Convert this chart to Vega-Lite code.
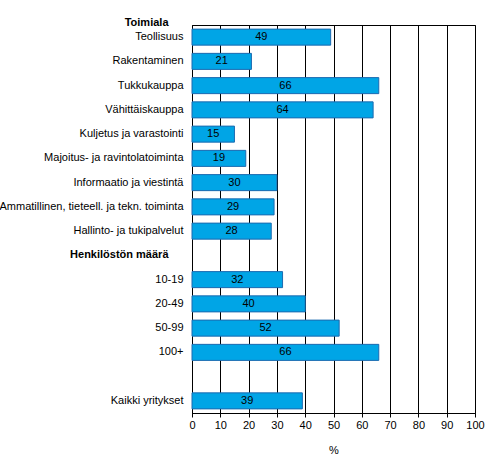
{
  "$schema": "https://vega.github.io/schema/vega-lite/v6.json",
  "autosize": {"type": "none"},
  "width": 283,
  "height": 388,
  "padding": {"left": 192, "top": 25, "right": 18, "bottom": 60},
  "background": "white",
  "data": {
    "values": [
      {"group": "Teollisuus", "share": 49},
      {"group": "Rakentaminen", "share": 21},
      {"group": "Tukkukauppa", "share": 66},
      {"group": "Vähittäiskauppa", "share": 64},
      {"group": "Kuljetus ja varastointi", "share": 15},
      {"group": "Majoitus- ja ravintolatoiminta", "share": 19},
      {"group": "Informaatio ja viestintä", "share": 30},
      {"group": "Ammatillinen, tieteell. ja tekn. toiminta", "share": 29},
      {"group": "Hallinto- ja tukipalvelut", "share": 28},
      {"group": "10-19", "share": 32},
      {"group": "20-49", "share": 40},
      {"group": "50-99", "share": 52},
      {"group": "100+", "share": 66},
      {"group": "Kaikki yritykset", "share": 39}
    ]
  },
  "config": {
    "font": "Liberation Sans",
    "view": {"stroke": "black", "strokeWidth": 1},
    "axis": {
      "labelFont": "Liberation Sans",
      "titleFont": "Liberation Sans",
      "labelFontSize": 11,
      "titleFontSize": 11,
      "labelColor": "black",
      "titleColor": "black",
      "domainColor": "black",
      "tickColor": "black"
    },
    "axisX": {
      "title": "%",
      "values": [0, 10, 20, 30, 40, 50, 60, 70, 80, 90, 100],
      "grid": true,
      "gridColor": "black",
      "gridOpacity": 1,
      "tickSize": 4,
      "labelPadding": 2,
      "titlePadding": 14,
      "titleFontWeight": "normal",
      "labelFlush": false,
      "labelOverlap": false
    }
  },
  "transform": [
    {"calculate": "datum.share / 2", "as": "mid"}
  ],
  "encoding": {
    "y": {
      "field": "group",
      "type": "nominal",
      "sort": null,
      "scale": {
        "domain": [
          "Teollisuus", "Rakentaminen", "Tukkukauppa", "Vähittäiskauppa",
          "Kuljetus ja varastointi", "Majoitus- ja ravintolatoiminta",
          "Informaatio ja viestintä", "Ammatillinen, tieteell. ja tekn. toiminta",
          "Hallinto- ja tukipalvelut", "Henkilöstön määrä",
          "10-19", "20-49", "50-99", "100+", " ", "Kaikki yritykset"
        ],
        "paddingInner": 0.34,
        "paddingOuter": 0.17
      },
      "axis": {
        "title": "Toimiala",
        "titleAngle": 0,
        "titleAlign": "right",
        "titleBaseline": "middle",
        "titleFontWeight": "bold",
        "titleX": -24,
        "titleY": -3,
        "ticks": false,
        "grid": false,
        "labelPadding": {"expr": "datum.value == 'Henkilöstön määrä' ? 24 : 9"},
        "labelFontWeight": {"expr": "datum.value == 'Henkilöstön määrä' ? 'bold' : 'normal'"},
        "labelLimit": 300
      }
    }
  },
  "layer": [
    {
      "mark": {"type": "bar", "color": "#00A5E6", "stroke": "#1C6AB0", "strokeWidth": 1},
      "encoding": {
        "x": {
          "field": "share",
          "type": "quantitative",
          "title": "%",
          "scale": {"domain": [0, 100], "nice": false}
        }
      }
    },
    {
      "mark": {"type": "text", "color": "black", "fontSize": 11, "font": "Liberation Sans", "align": "center", "baseline": "middle"},
      "encoding": {
        "x": {"field": "mid", "type": "quantitative", "title": "%"},
        "text": {"field": "share", "type": "quantitative"}
      }
    }
  ]
}
